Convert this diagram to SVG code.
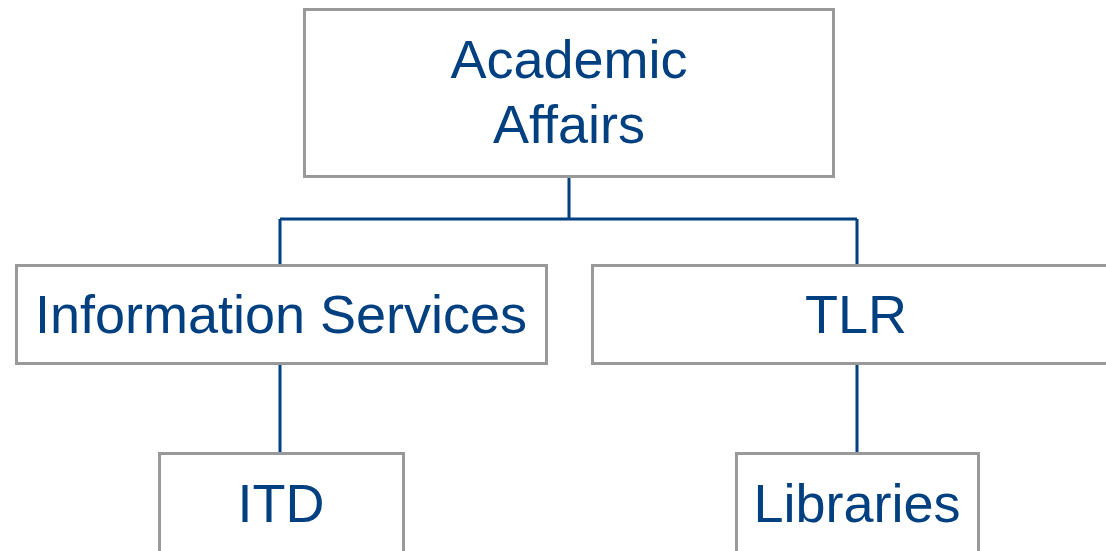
<svg xmlns="http://www.w3.org/2000/svg" width="1106" height="551" viewBox="0 0 1106 551">
  <style>
    .box { fill: #ffffff; stroke: #999999; stroke-width: 3; }
    .label { font-family: "Liberation Sans", Arial, sans-serif; font-size: 54px; fill: #003f80; text-anchor: middle; }
    .link { fill: none; stroke: #003f80; stroke-width: 3; }
  </style>
  <rect width="1106" height="551" fill="#ffffff"/>

  <!-- reporting lines -->
  <g id="connectors">
    <path class="link" d="M569 176 V219 M280 219 H857 M280 219 V265 M857 219 V265"/>
    <path class="link" d="M280 364 V453"/>
    <path class="link" d="M857 364 V453"/>
  </g>

  <g id="academic-affairs">
    <rect class="box" x="304.5" y="9.5" width="529" height="167"/>
    <text class="label" x="569" y="78">Academic</text>
    <text class="label" x="569" y="143">Affairs</text>
  </g>

  <g id="information-services">
    <rect class="box" x="16.5" y="265.5" width="530" height="98"/>
    <text class="label" x="281" y="333">Information Services</text>
  </g>

  <g id="tlr">
    <rect class="box" x="592.5" y="265.5" width="530" height="98"/>
    <text class="label" x="856" y="333">TLR</text>
  </g>

  <g id="itd">
    <rect class="box" x="159.5" y="453.5" width="244" height="120"/>
    <text class="label" x="281" y="522">ITD</text>
  </g>

  <g id="libraries">
    <rect class="box" x="736.5" y="453.5" width="242" height="120"/>
    <text class="label" x="857" y="522">Libraries</text>
  </g>
</svg>
